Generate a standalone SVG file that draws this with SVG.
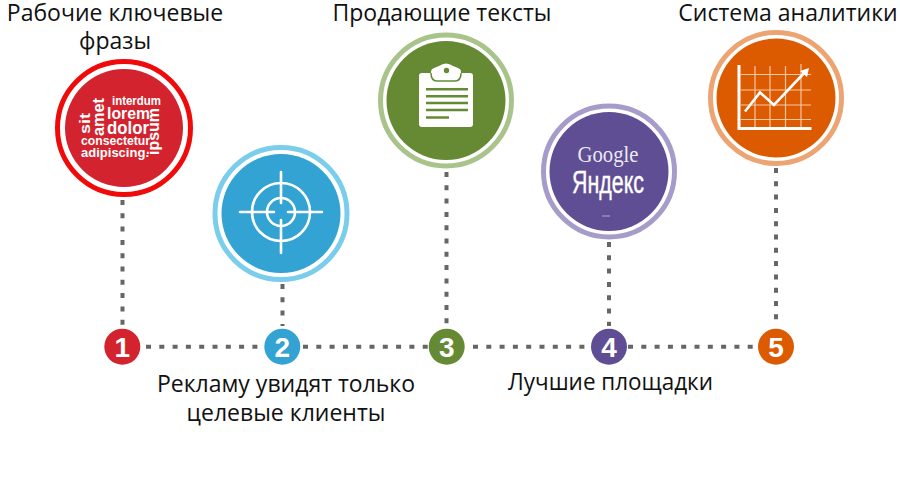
<svg xmlns="http://www.w3.org/2000/svg" width="900" height="500" viewBox="0 0 900 500">
<style>
.lbl{font-family:"Open Sans","Noto Sans",sans-serif;font-size:23px;fill:#111;text-anchor:middle}
.dots{fill:none;stroke:#666;stroke-width:4;stroke-dasharray:5 8.3}
.ring{fill:none;stroke-width:5}
.num{font-family:"Liberation Sans",Arial,sans-serif;font-weight:700;font-size:28px;fill:#fff;text-anchor:middle}
.w{font-family:"Liberation Sans",Arial,sans-serif;font-weight:700;fill:#fff}
.ic{fill:none;stroke:#fff;stroke-linecap:round}
.thin{stroke:#f3c7a4;stroke-width:1.2;fill:none}
.goo{font-family:"Liberation Serif",serif;font-size:23px;fill:#fff;fill-opacity:.9;text-anchor:middle}
.yan{font-family:"Liberation Sans",sans-serif;font-size:31px;fill:#fff;stroke:#fff;stroke-width:.4;text-anchor:middle}
</style>
<rect width="900" height="500" fill="#fff"/>
<g id="connectors" class="dots">
<path d="M122.500 200V326M282.500 284V326M446.500 172V326M609 242V326M776 168V326"/>
<path d="M146 346.700H264M303 346.700H428M473 346.700H591M628 346.700H758"/>
</g>
<g id="node1">
<circle cx="124" cy="128" r="59" fill="#d2232e"/>
<circle class="ring" cx="124" cy="128" r="66.500" stroke="#f00a0a"/>
<g class="w">
<text font-size="15" transform="translate(90 134) rotate(-90)" textLength="21" lengthAdjust="spacingAndGlyphs">sit</text>
<text font-size="16" transform="translate(104 136) rotate(-90)" textLength="38" lengthAdjust="spacingAndGlyphs">amet</text>
<text x="112" y="105" font-size="12.600" textLength="49" lengthAdjust="spacingAndGlyphs">interdum</text>
<text x="107" y="118.500" font-size="16.500" textLength="43" lengthAdjust="spacingAndGlyphs">lorem</text>
<text x="107" y="134" font-size="17.500" textLength="42" lengthAdjust="spacingAndGlyphs">dolor</text>
<text x="81" y="145" font-size="12.500" textLength="69" lengthAdjust="spacingAndGlyphs">consectetur</text>
<text x="81" y="156.500" font-size="13.500" textLength="68" lengthAdjust="spacingAndGlyphs">adipiscing.</text>
<text font-size="16" transform="translate(159 155) rotate(-90)" textLength="47" lengthAdjust="spacingAndGlyphs">ipsum</text>
</g>
</g>
<g id="node2">
<circle cx="281" cy="213.500" r="59.500" fill="#32a3d3"/>
<circle class="ring" cx="281" cy="213.500" r="66" stroke="#7bcdec"/>
<g class="ic" stroke-width="2.600">
<circle cx="281" cy="212" r="29"/>
<circle cx="281" cy="212" r="14"/>
<path d="M240 212H274M288 212H322M281 172V203M281 220V253"/>
</g>
</g>
<g id="node3">
<circle cx="446" cy="100.500" r="59.500" fill="#658a33"/>
<circle class="ring" cx="446" cy="100.500" r="65.500" stroke="#a9c48a"/>
<path d="M422 73H431V72Q431 69 434 68L439 66Q446 61 453 66L458 68Q461 69 461 72V73H470Q473 73 473 76V124Q473 127 470 127H422Q419 127 419 124V76Q419 73 422 73Z" fill="#fff"/>
<path d="M431 73Q431 81 437 81H455Q461 81 461 73" fill="none" stroke="#658a33" stroke-width="1.500"/>
<circle cx="446.500" cy="70.500" r="2.700" fill="#658a33"/>
<path d="M426 89.300H468M426 96.200H468M426 103H468M426 110H468M426 117.500H449" stroke="#658a33" stroke-width="2.400" fill="none"/>
</g>
<g id="node4">
<circle cx="609" cy="171.500" r="59.500" fill="#5f4e93"/>
<circle class="ring" cx="609" cy="171.500" r="65.500" stroke="#a79cc9"/>
<text class="goo" x="608" y="162" textLength="61" lengthAdjust="spacingAndGlyphs">Google</text>
<text class="yan" x="608" y="192.500" textLength="72" lengthAdjust="spacingAndGlyphs">Яндекс</text>
<path d="M602 216H610" stroke="#c9c3dd" stroke-width="0.800" fill="none"/>
</g>
<g id="node5">
<circle cx="776" cy="98" r="59.500" fill="#dc5b00"/>
<circle class="ring" cx="776" cy="98" r="65.500" stroke="#eda473"/>
<path class="thin" d="M741 74.500H811M741 90H811M741 105H811M741 119.500H811M755 66V128M770 66V128M785.500 66V128M801 64V128"/>
<path d="M739 65V128.500H811.500" fill="none" stroke="#fff" stroke-width="3"/>
<path d="M745 111.500L760 92.500L774 105L805 72" fill="none" stroke="#fff" stroke-width="2.600"/>
<path d="M809 68L807 77L800 71Z" fill="#fff"/>
</g>
<g id="badge1"><circle cx="122.300" cy="346.700" r="18" fill="#d2232e"/><text class="num" x="122.300" y="356.500">1</text></g>
<g id="badge2"><circle cx="282.300" cy="346.700" r="18" fill="#32a3d3"/><text class="num" x="282.300" y="356.500">2</text></g>
<g id="badge3"><circle cx="446.700" cy="346.700" r="18" fill="#658a33"/><text class="num" x="446.700" y="356.500">3</text></g>
<g id="badge4"><circle cx="609" cy="346.700" r="18" fill="#5f4e93"/><text class="num" x="609" y="356.500">4</text></g>
<g id="badge5"><circle cx="776" cy="346.700" r="18" fill="#dc5b00"/><text class="num" x="776" y="356.500">5</text></g>
<g id="labels">
<text class="lbl" x="115" y="20.500">Рабочие ключевые</text>
<text class="lbl" x="115" y="49">фразы</text>
<text class="lbl" x="442" y="21">Продающие тексты</text>
<text class="lbl" x="788" y="21">Система аналитики</text>
<text class="lbl" x="286" y="392">Рекламу увидят только</text>
<text class="lbl" x="286" y="421">целевые клиенты</text>
<text class="lbl" x="610.500" y="389.500" textLength="205" lengthAdjust="spacingAndGlyphs">Лучшие площадки</text>
</g>
</svg>
